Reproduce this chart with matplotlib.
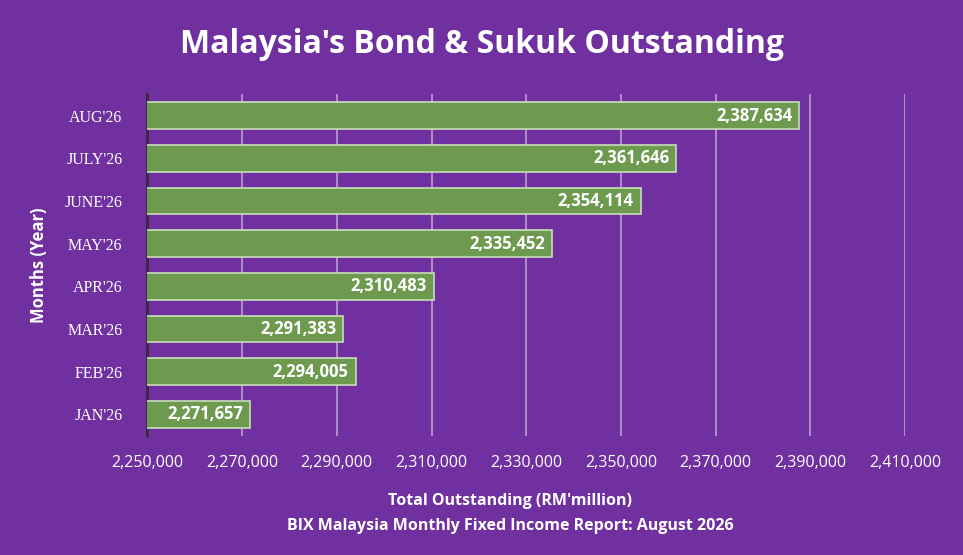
import matplotlib.pyplot as plt
from matplotlib.ticker import FuncFormatter

months = ["JAN'26", "FEB'26", "MAR'26", "APR'26", "MAY'26", "JUNE'26", "JULY'26", "AUG'26"]
outstanding = [2271657, 2294005, 2291383, 2310483, 2335452, 2354114, 2361646, 2387634]

BG = "#7030A0"
plt.rcParams['font.family'] = ['Open Sans', 'DejaVu Sans']

fig = plt.figure(figsize=(9.63, 5.55), dpi=100, facecolor=BG)
ax = fig.add_axes([0.153, 0.215, 0.787, 0.615], facecolor=BG)

y = range(len(months))
ax.barh(y, outstanding, left=0, height=0.62, color="#6E9A4F",
        edgecolor="#C9DDB8", linewidth=1.2, zorder=3)
ax.set_xlim(2250000, 2410000)
ax.set_ylim(-0.5, len(months) - 0.5)
ax.set_xticks(range(2250000, 2410001, 20000))
ax.xaxis.set_major_formatter(FuncFormatter(lambda v, p: f"{int(v):,}"))
ax.set_yticks(list(y))
ax.set_yticklabels(months, family="Liberation Serif", fontsize=13)
ax.tick_params(colors="white", labelsize=11.5, length=0)
ax.tick_params(axis="x", pad=14)
ax.tick_params(axis="y", pad=18)
ax.grid(axis="x", color="#B8A0C8", linewidth=1.2, zorder=0)
for s in ["top", "right", "bottom"]:
    ax.spines[s].set_visible(False)
ax.spines["left"].set_color("#3A2A40")
ax.spines["left"].set_linewidth(2)

for i, v in enumerate(outstanding):
    ax.text(v - 1500, i, f"{v:,}", ha="right", va="center", color="white",
            fontsize=12, fontweight="bold", zorder=4)

ax.set_ylabel("Months (Year)", color="white", fontsize=12, fontweight="bold", labelpad=12)
fig.text(0.5, 0.92, "Malaysia's Bond & Sukuk Outstanding", ha="center", va="center",
         color="white", fontsize=23, fontweight="bold")
fig.text(0.53, 0.097, "Total Outstanding (RM'million)", ha="center", va="center",
         color="white", fontsize=11.5, fontweight="bold")
fig.text(0.53, 0.052, "BIX Malaysia Monthly Fixed Income Report: August 2026", ha="center",
         va="center", color="white", fontsize=11.5, fontweight="bold")

fig.savefig("out.png", dpi=100, facecolor=BG)
